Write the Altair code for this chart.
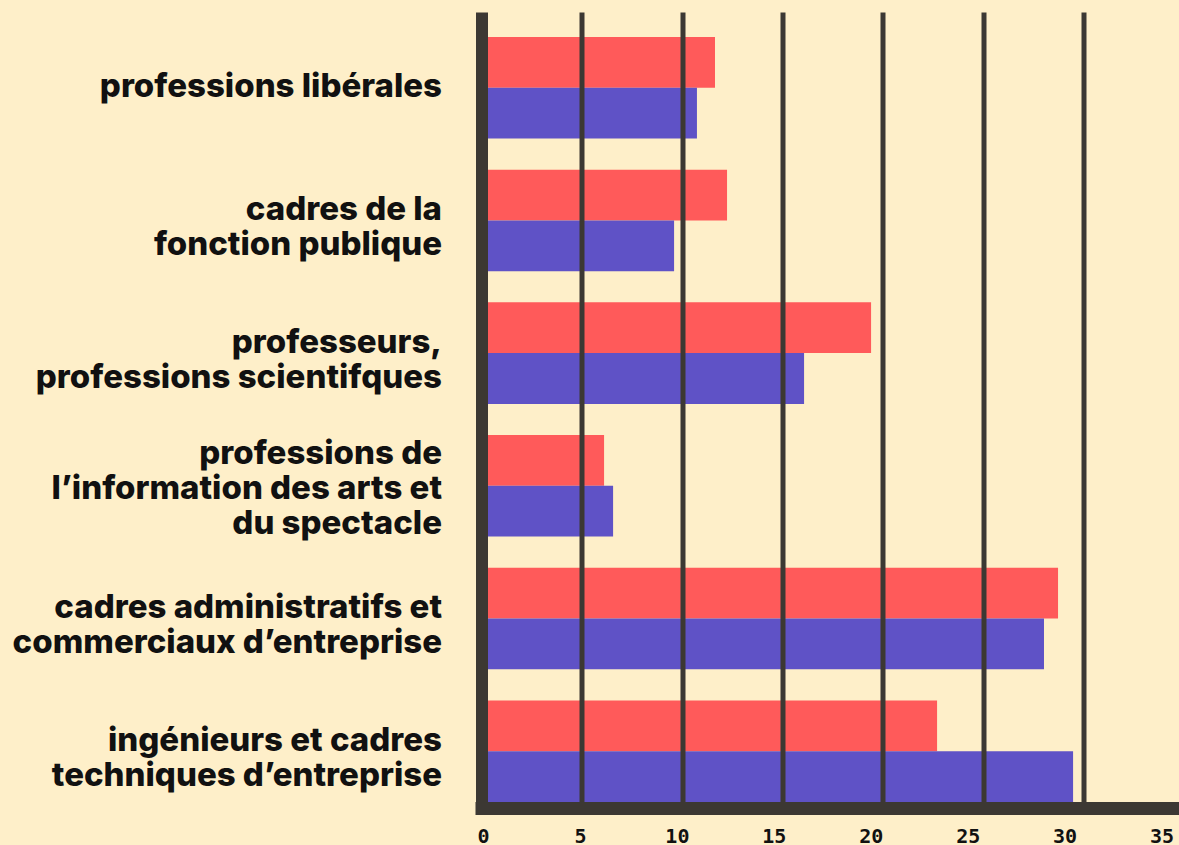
import altair as alt
import pandas as pd

# ---- data ----
categories = [
    "professions libérales",
    "cadres de la|fonction publique",
    "professeurs,|professions scientifques",
    "professions de|l’information des arts et|du spectacle",
    "cadres administratifs et|commerciaux d’entreprise",
    "ingénieurs et cadres|techniques d’entreprise",
]
series = ["série 1", "série 2"]
values_red = [11.64, 12.24, 19.42, 6.11, 28.74, 22.71]
values_purple = [10.74, 9.60, 16.08, 6.56, 28.04, 29.49]
grid_values = [5, 10, 15, 20, 25, 30]
tick_labels = [0, 5, 10, 15, 20, 25, 30, 35]

rows = []
for c, r, p in zip(categories, values_red, values_purple):
    rows.append({"cat": c, "serie": series[0], "value": r})
    rows.append({"cat": c, "serie": series[1], "value": p})
df = pd.DataFrame(rows)
ticks_df = pd.DataFrame({"t": tick_labels})

BG = "#FEEFC9"
RED = "#FF5A5A"
PURPLE = "#5F52C6"
DARK = "#3C3833"
LH = 35

label_offset = {
    "condition": [
        {"test": "length(split(datum.label, '|')) == 2", "value": -LH / 2 + 7},
        {"test": "length(split(datum.label, '|')) == 3", "value": -LH + 3},
    ],
    "value": -1,
}

bars = alt.Chart(df).mark_bar().encode(
    y=alt.Y(
        "cat:N", sort=categories, title=None,
        scale=alt.Scale(paddingInner=0.235, paddingOuter=0.094, align=1),
        axis=alt.Axis(
            labelExpr="split(datum.label, '|')",
            labelFont="Inter", labelFontWeight=800, labelFontSize=33,
            labelLineHeight=LH, labelColor="#111111", labelPadding=40,
            labelOffset=label_offset,
            labelLimit=600, ticks=False, domainColor=DARK, domainWidth=12,
            domainCap="butt", zindex=1,
        ),
    ),
    yOffset=alt.YOffset("serie:N", sort=series),
    x=alt.X(
        "value:Q", title=None,
        scale=alt.Scale(domain=[0, 34.77], nice=False),
        axis=alt.Axis(
            values=grid_values, labels=False, ticks=False, grid=True,
            gridColor=DARK, gridWidth=5, gridOpacity=1, domainColor=DARK,
            domainWidth=13, domainCap="square", offset=6, zindex=1,
            orient="bottom",
        ),
    ),
    color=alt.Color("serie:N", scale=alt.Scale(domain=series, range=[RED, PURPLE]), legend=None),
)

labels = alt.Chart(ticks_df).mark_tick(opacity=0).encode(
    x=alt.X(
        "t:Q", title=None,
        scale=alt.Scale(domain=[-0.08, 35.9], nice=False, zero=False),
        axis=alt.Axis(
            values=tick_labels, orient="bottom", domain=False, ticks=False,
            grid=False, labelFont="DejaVu Sans Mono", labelFontWeight="bold",
            labelFontSize=20, labelColor="#111111", labelPadding=24,
            labelFlush=False, labelOverlap=False,
        ),
    ),
)

chart = (
    alt.layer(bars, labels)
    .resolve_scale(x="independent")
    .properties(
        width=697.5, height=790,
        padding={"left": 481.5, "top": 12, "right": 0, "bottom": 42},
        autosize=alt.AutoSizeParams(type="none"),
        background=BG,
    )
    .configure_view(stroke=None)
)

chart.save(
    "out.html",
    embed_options={
        "renderer": "svg",
        "actions": False,
        "defaultStyle": "html, body { margin: 0; padding: 0; background: #FEEFC9; overflow: hidden; }",
    },
)
